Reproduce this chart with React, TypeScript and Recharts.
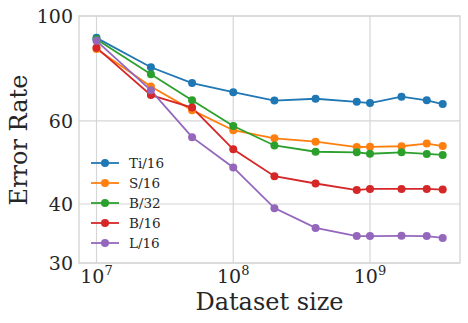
import { LineChart, Line, XAxis, YAxis, CartesianGrid, Legend, ReferenceArea } from 'recharts';

const sizes = [1e7, 2.5e7, 5e7, 1e8, 2e8, 4e8, 8e8, 1e9, 1.7e9, 2.6e9, 3.4e9];
const ti16 = [89.9, 77.9, 72.1, 69.0, 66.2, 66.8, 65.8, 65.4, 67.5, 66.3, 65.1];
const s16 = [85.1, 70.9, 63.2, 57.3, 55.1, 54.2, 52.8, 52.85, 53.0, 53.7, 53.05];
const b32 = [89.3, 75.3, 66.3, 58.5, 53.2, 51.6, 51.45, 51.1, 51.45, 51.05, 50.8];
const b16 = [85.7, 68.0, 64.0, 52.2, 45.8, 44.2, 42.8, 43.05, 43.05, 43.05, 42.9];
const l16 = [88.6, 69.6, 55.4, 47.8, 39.2, 35.6, 34.2, 34.2, 34.25, 34.2, 33.9];

const seriesNames = ['Ti/16', 'S/16', 'B/32', 'B/16', 'L/16'];
const seriesValues = [ti16, s16, b32, b16, l16];
const colors = ['#1f77b4', '#ff7f0e', '#2ca02c', '#d62728', '#9467bd'];

const xTicks = [1e7, 1e8, 1e9];
const yTicks = [30, 40, 60, 100];
const xDomain = [7.45e6, 4.55e9];
const yDomain = [30, 100];

const rows = sizes.map((size, i) => {
    const row: Record<string, number> = { size };
    seriesNames.forEach((name, j) => {
        row[name] = seriesValues[j][i];
    });
    return row;
});

const FONT = 'DejaVu Serif';
const TEXT = '#262626';
const GRID = '#d6d6d6';

function XTick({ x, y, payload }: any) {
    const exp = Math.round(Math.log10(payload.value));
    return (
        <text x={x} y={y + 20} textAnchor="middle" fill={TEXT} fontSize={19} fontFamily={FONT}>
            10<tspan dy={-8} fontSize={13}>{exp}</tspan>
        </text>
    );
}

function YTick({ x, y, payload }: any) {
    return (
        <text x={x - 6} y={y} dy="0.36em" textAnchor="end" fill={TEXT} fontSize={19} fontFamily={FONT}>
            {payload.value}
        </text>
    );
}

function LegendBox() {
    return (
        <svg width={80} height={100}>
            {seriesNames.map((name, i) => {
                const cy = 10 + i * 20;
                return (
                    <g key={name}>
                        <line x1={3} x2={31} y1={cy} y2={cy} stroke={colors[i]} strokeWidth={1.8} />
                        <circle cx={17} cy={cy} r={4} fill={colors[i]} />
                        <text x={41} y={cy} dy="0.35em" fill={TEXT} fontSize={13.5} fontFamily={FONT}>
                            {name}
                        </text>
                    </g>
                );
            })}
        </svg>
    );
}

export default function App() {
    return (
        <div style={{ position: 'absolute', left: 0, top: 0, width: 468, height: 323, background: '#fff' }}>
            <LineChart width={468} height={323} data={rows} margin={{ top: 16, right: 8, left: 0, bottom: 0 }}>
                <CartesianGrid stroke={GRID} strokeWidth={1.2} horizontalValues={yTicks} verticalValues={xTicks} />
                <XAxis
                    dataKey="size"
                    type="number"
                    scale="log"
                    domain={xDomain}
                    allowDataOverflow
                    ticks={xTicks}
                    height={60}
                    tickSize={0}
                    tickMargin={0}
                    tickLine={false}
                    axisLine={false}
                    tick={<XTick />}
                    label={{
                        content: () => (
                            <text x={269.5} y={310} textAnchor="middle" fill={TEXT} fontSize={24} fontFamily={FONT}>
                                Dataset size
                            </text>
                        ),
                    }}
                />
                <YAxis
                    type="number"
                    scale="log"
                    domain={yDomain}
                    allowDataOverflow
                    ticks={yTicks}
                    width={79}
                    tickSize={0}
                    tickMargin={0}
                    tickLine={false}
                    axisLine={false}
                    tick={<YTick />}
                    label={{
                        content: () => (
                            <text
                                x={27}
                                y={140}
                                transform="rotate(-90 27 140)"
                                textAnchor="middle"
                                fill={TEXT}
                                fontSize={24}
                                fontFamily={FONT}
                            >
                                Error Rate
                            </text>
                        ),
                    }}
                />
                <ReferenceArea
                    x1={xDomain[0]}
                    x2={xDomain[1]}
                    y1={yDomain[0]}
                    y2={yDomain[1]}
                    fill="none"
                    stroke={GRID}
                    strokeWidth={1.4}
                />
                {seriesNames.map((name, i) => (
                    <Line
                        key={name}
                        dataKey={name}
                        name={name}
                        type="linear"
                        stroke={colors[i]}
                        strokeWidth={1.8}
                        dot={{ r: 4, fill: colors[i], stroke: colors[i], strokeWidth: 0 }}
                        activeDot={false}
                        isAnimationActive={false}
                    />
                ))}
                <Legend
                    layout="vertical"
                    align="center"
                    verticalAlign="middle"
                    content={<LegendBox />}
                    wrapperStyle={{ left: 88, top: 153, width: 80, height: 100 }}
                />
            </LineChart>
        </div>
    );
}
